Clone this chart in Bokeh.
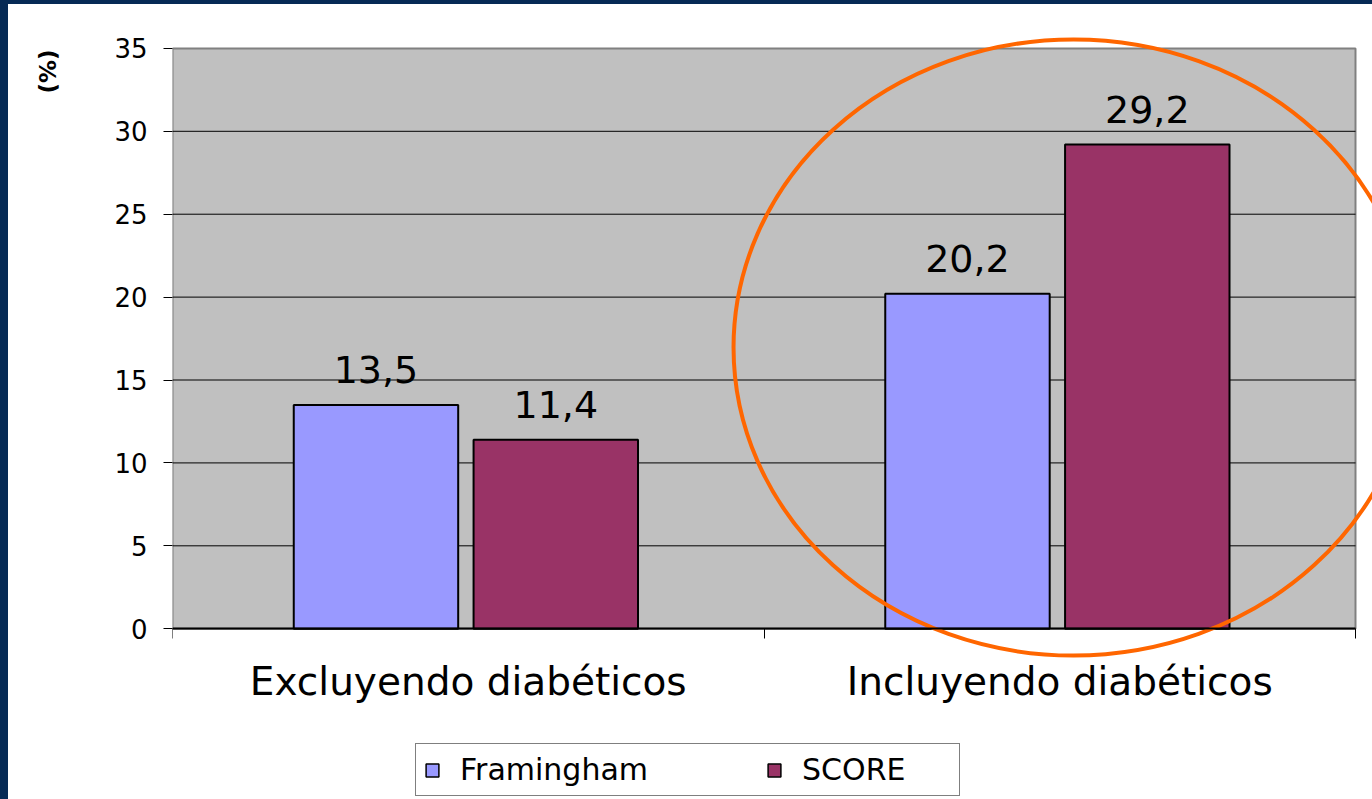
import math
from bokeh.plotting import figure
from bokeh.layouts import column, row
from bokeh.models import (ColumnDataSource, Range1d, FixedTicker, Legend, LegendItem,
                          LinearAxis, Div, Spacer)
from bokeh.transform import dodge
from bokeh.core.properties import value
from bokeh.embed import file_html
from bokeh.resources import INLINE

# ---- data ----
categories = ["Excluyendo diabéticos", "Incluyendo diabéticos"]
series_names = ["Framingham", "SCORE"]
framingham = [13.5, 20.2]
score = [11.4, 29.2]
y_ticks = [0, 5, 10, 15, 20, 25, 30, 35]
y_title = "(%)"

FONT = "DejaVu Sans"
COL_FRAM = "#9999FF"
COL_SCORE = "#993366"
NAVY = "#062A55"

cat_x = [i + 0.5 for i in range(len(categories))]
n_cat = len(categories)


def fmt(v):
    return f"{v:.1f}".replace(".", ",")


src = ColumnDataSource(dict(
    x=cat_x,
    fram=framingham,
    score=score,
    fram_lbl=[fmt(v) for v in framingham],
    score_lbl=[fmt(v) for v in score],
))

LW = 56          # width of the strip holding the y title
W = 1308         # width of the main chart
H1 = 714
H2 = 81
MB_TOP = 30
MB_BOTTOM = 56
MB_LEFT = 108

p = figure(width=W, height=H1, output_backend="svg", toolbar_location=None,
           x_axis_location=None,
           x_range=Range1d(0, 2.02874), y_range=Range1d(-2.0376, 35.839),
           min_border_left=MB_LEFT, min_border_right=0,
           min_border_top=MB_TOP, min_border_bottom=MB_BOTTOM)
p.outline_line_color = None
p.background_fill_color = "white"
p.border_fill_color = "white"
p.grid.visible = False

# plot area background
p.quad(left=[0], right=[n_cat], bottom=[y_ticks[0]], top=[y_ticks[-1]],
       fill_color="#C0C0C0", line_color="#808080", line_width=2)
# gridlines
grid_vals = y_ticks[1:-1]
p.segment(x0=[0] * len(grid_vals), x1=[n_cat] * len(grid_vals), y0=grid_vals, y1=grid_vals,
          line_color="black", line_width=1)

off_l, off_r = -0.156, 0.148
bw = 0.278
p.vbar(x=dodge("x", off_l), top="fram", width=bw, source=src,
       fill_color=COL_FRAM, line_color="black", line_width=2)
p.vbar(x=dodge("x", off_r), top="score", width=bw, source=src,
       fill_color=COL_SCORE, line_color="black", line_width=2)

p.text(x=dodge("x", off_l), y="fram", text="fram_lbl", source=src,
       text_align="center", text_baseline="middle", y_offset=-35,
       text_font=value(FONT), text_font_size="38px", text_color="black")
p.text(x=dodge("x", off_r), y="score", text="score_lbl", source=src,
       text_align="center", text_baseline="middle", y_offset=-35,
       text_font=value(FONT), text_font_size="38px", text_color="black")

# highlight ellipse
p.ellipse(x=[1.5233], y=[16.96], width=[1.1496], height=[37.16],
          fill_color=None, line_color="#FF6600", line_width=4)

# y axis
ya = p.yaxis[0]
ya.ticker = FixedTicker(ticks=y_ticks)
ya.bounds = (y_ticks[0], y_ticks[-1])
ya.axis_line_color = None
ya.major_tick_out = 9
ya.major_tick_in = 0
ya.major_tick_line_color = "black"
ya.minor_tick_line_color = None
ya.major_label_standoff = 16
ya.major_label_text_font = FONT
ya.major_label_text_font_size = "26px"
ya.major_label_text_color = "black"

# category labels (below the plot area)
xa_lbl = LinearAxis(ticker=FixedTicker(ticks=cat_x),
                    major_label_overrides={cx: c for cx, c in zip(cat_x, categories)},
                    axis_line_color=None, major_tick_line_color=None,
                    major_tick_out=0, major_tick_in=0,
                    minor_tick_line_color=None, minor_tick_out=0, minor_tick_in=0,
                    major_label_standoff=-4,
                    major_label_text_font=FONT, major_label_text_font_size="39px",
                    major_label_text_color="black")
# axis line at y = 0 with category-boundary ticks
xa_line = LinearAxis(fixed_location=0, bounds=(0, n_cat),
                     ticker=FixedTicker(ticks=[], minor_ticks=list(range(n_cat + 1))),
                     axis_line_color="black", axis_line_width=2,
                     major_tick_out=0, major_tick_in=0, major_tick_line_color=None,
                     minor_tick_out=10, minor_tick_in=0, minor_tick_line_color="black",
                     major_label_standoff=0)
p.add_layout(xa_lbl, "below")
p.add_layout(xa_line, "below")

# ---- y title strip (pixel coordinates) ----
frame_h = H1 - MB_TOP - MB_BOTTOM
pt = figure(width=LW, height=H1, output_backend="svg", toolbar_location=None,
            x_axis_location=None, y_axis_location=None,
            x_range=Range1d(0, LW), y_range=Range1d(0, frame_h),
            min_border=0, min_border_left=0, min_border_right=0,
            min_border_top=MB_TOP, min_border_bottom=MB_BOTTOM)
pt.outline_line_color = None
pt.background_fill_color = "white"
pt.border_fill_color = "white"
pt.grid.visible = False
pt.text(x=[39.5], y=[frame_h - 37], text=[y_title], angle=math.pi / 2,
        text_align="center", text_baseline="middle",
        text_font=value(FONT), text_font_style="bold", text_font_size="23px",
        text_color="black")

# ---- legend strip ----
p2 = figure(width=W, height=H2, output_backend="svg", toolbar_location=None,
            x_axis_location=None, y_axis_location=None,
            x_range=Range1d(0, 1), y_range=Range1d(0, 1),
            min_border=0, min_border_left=MB_LEFT, min_border_right=0,
            min_border_top=0, min_border_bottom=0)
p2.outline_line_color = None
p2.background_fill_color = "white"
p2.border_fill_color = "white"
p2.grid.visible = False
# swatch-only renderers for the legend (NaN data: nothing drawn in the strip)
nan = float("nan")
lr1 = p2.vbar(x=[nan], top=[nan], width=0.1, fill_color=COL_FRAM, line_color="black", line_width=1.5)
lr2 = p2.vbar(x=[nan], top=[nan], width=0.1, fill_color=COL_SCORE, line_color="black", line_width=1.5)

legend = Legend(items=[LegendItem(label=series_names[0], renderers=[lr1]),
                       LegendItem(label=series_names[1], renderers=[lr2])],
                orientation="horizontal", location=(243, 3),
                label_text_font=FONT, label_text_font_size="30px", label_text_color="black",
                glyph_width=16, glyph_height=16, label_standoff=20, spacing=118,
                padding=8, margin=0, label_width=149, label_height=33,
                border_line_color="black", border_line_width=1,
                background_fill_color="white", background_fill_alpha=1)
p2.add_layout(legend)

# slide background strips (left and top)
left_strip = Div(text="", width=8, height=799, margin=0, styles={"background-color": NAVY})
top_strip = Div(text="", width=LW + W, height=4, margin=0, styles={"background-color": NAVY})
spacer = Spacer(width=LW, height=H2, margin=0)

layout = row(left_strip,
             column(top_strip,
                    row(pt, p, spacing=0),
                    row(spacer, p2, spacing=0),
                    spacing=0),
             spacing=0)
open("out.html", "w").write(file_html(layout, INLINE))
